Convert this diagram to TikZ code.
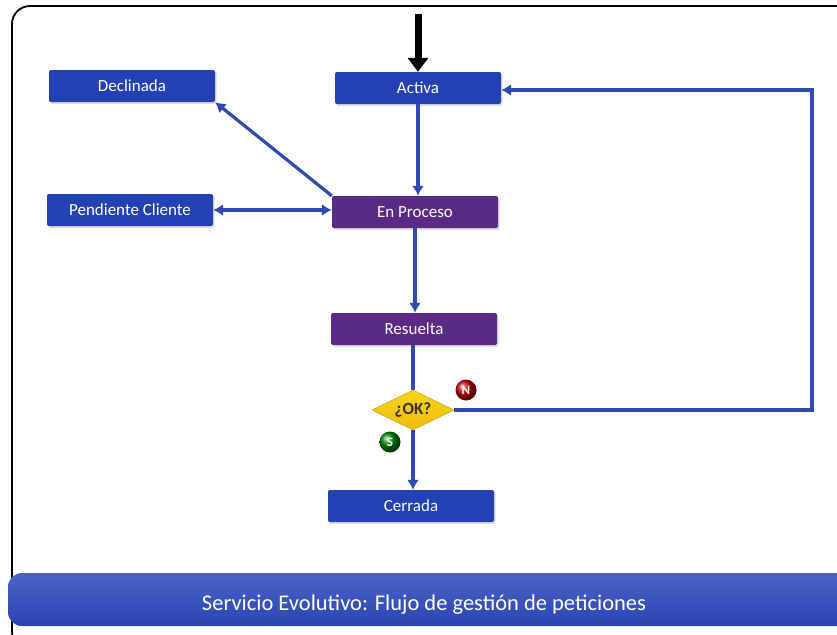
\documentclass[tikz,border=0pt]{standalone}
\usepackage{fontspec}
\setmainfont{Carlito}
\usetikzlibrary{arrows.meta,shapes.geometric,shadows}
\definecolor{boxblue}{HTML}{2441B4}
\definecolor{boxpurple}{HTML}{5A2A84}
\definecolor{lineblue}{HTML}{2F4BB2}
\definecolor{banner}{HTML}{2C48BC}
\definecolor{gold}{HTML}{F2C417}
\tikzset{
  state/.style={rectangle, rounded corners=2pt, minimum width=166pt, minimum height=32pt,
    text=white, font=\fontsize{17}{19}\selectfont, inner sep=0pt,
    drop shadow={shadow xshift=1.5pt, shadow yshift=-2pt, fill=black!25}},
  bluebox/.style={state, fill=boxblue},
  purplebox/.style={state, fill=boxpurple},
  conn/.style={draw=lineblue, line width=3.2pt, -{Latex[length=10pt,width=12pt]}},
  badge/.style={circle, minimum size=21pt, inner sep=0pt, text=white, font=\fontsize{13}{14}\selectfont\bfseries}
}
\begin{document}
\begin{tikzpicture}[x=1pt,y=-1pt]
\useasboundingbox (0,0) rectangle (837,634);
\begin{scope}
\clip (0,0) rectangle (837,634);
\draw[line width=1.8pt, rounded corners=18pt] (12,6) rectangle (870,650);
\shade[top color=banner!85, bottom color=banner!95!black, rounded corners=14pt]
  (8,573) rectangle (860,626);
\end{scope}
\node[text=white, font=\fontsize{22.5}{25}\selectfont] (title) at (424,605) {Servicio Evolutivo: Flujo de gestión de peticiones};

\node[bluebox] (dec) at (132,86) {Declinada};
\node[bluebox] (act) at (418,88) {Activa};
\node[bluebox] (pen) at (130,210) {Pendiente Cliente};
\node[purplebox] (pro) at (415,212) {En Proceso};
\node[purplebox] (res) at (414,329) {Resuelta};
\node[diamond, aspect=2, minimum width=82pt, minimum height=40pt, inner sep=0pt,
  top color=gold!70!yellow, bottom color=gold!85!orange, draw=gold!80!black, line width=0.5pt,
  font=\fontsize{17}{19}\selectfont\bfseries, text=black!80] (ok) at (413,410) {¿OK?};
\node[bluebox] (cer) at (411,506) {Cerrada};
\node[badge, ball color=red!75!black] (n) at (466,390) {N};
\node[badge, ball color=green!50!black] (s) at (390,442) {S};

\coordinate (top) at (418,14);
\coordinate (r1) at (812,410);
\coordinate (r2) at (812,90);

\draw[line width=7pt, -{Triangle[length=14pt,width=20pt]}] (top) -- (act.north);
\draw[conn] (act.south) -- (act.south |- pro.north);
\draw[conn] (pro.north west) -- (dec.south east);
\draw[draw=lineblue, line width=3.2pt, {Latex[length=10pt,width=12pt]}-{Latex[length=10pt,width=12pt]}] (pen.east) -- (pen.east -| pro.west);
\draw[conn] (pro.south) -- (pro.south |- res.north);
\draw[draw=lineblue, line width=3.2pt] (ok.north |- res.south) -- (ok.north);
\draw[conn] (ok.south) -- (ok.south |- cer.north);
\draw[conn] (ok.east) -- (r1) -- (r2) -- (act.east |- r2);
\end{tikzpicture}
\end{document}
